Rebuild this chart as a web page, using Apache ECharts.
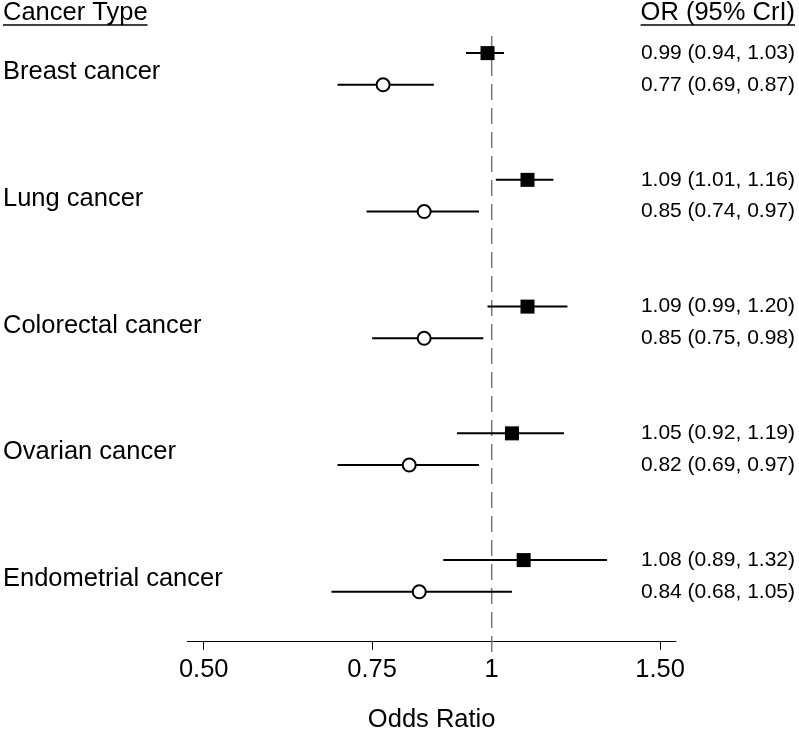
<!DOCTYPE html>
<html><head><meta charset="utf-8">
<script src="https://cdn.jsdelivr.net/npm/echarts@6/dist/echarts.min.js"></script>
<style>html,body{margin:0;padding:0;background:#fff}#c{width:799px;height:734px}</style>
</head><body><div id="c"></div>
<script>
const cancerTypes = ['Breast cancer','Lung cancer','Colorectal cancer','Ovarian cancer','Endometrial cancer'];
const squareOR   = [0.99, 1.09, 1.09, 1.05, 1.08];
const squareLow  = [0.94, 1.01, 0.99, 0.92, 0.89];
const squareHigh = [1.03, 1.16, 1.20, 1.19, 1.32];
const circleOR   = [0.77, 0.85, 0.85, 0.82, 0.84];
const circleLow  = [0.69, 0.74, 0.75, 0.69, 0.68];
const circleHigh = [0.87, 0.97, 0.98, 0.97, 1.05];
const tickValues = [0.5, 0.75, 1, 1.5];
const tickLabels = ['0.50', '0.75', '1', '1.50'];
const headerLeft = 'Cancer Type';
const headerRight = 'OR (95% CrI)';
const xTitle = 'Odds Ratio';

const FONT = '"Liberation Sans", Arial, Helvetica, sans-serif';
const BIG = 25.5, SMALL = 21;
const ln = Math.log;
const fmt = (v, l, h) => v.toFixed(2) + ' (' + l.toFixed(2) + ', ' + h.toFixed(2) + ')';

const rowValues = [], rowTexts = {};
cancerTypes.forEach((c, i) => {
  rowValues.push(i * 4, i * 4 + 1);
  rowTexts[i * 4] = fmt(squareOR[i], squareLow[i], squareHigh[i]);
  rowTexts[i * 4 + 1] = fmt(circleOR[i], circleLow[i], circleHigh[i]);
});
const labelOffset = 0.6;

const yMin = -0.54, yMax = 18.55;
const xMin = -0.7326, xMax = 0.4436;

const cv = document.createElement('canvas').getContext('2d');
cv.font = BIG + 'px ' + FONT;
const wL = cv.measureText(headerLeft).width;
const wR = cv.measureText(headerRight).width;

function ciSeries(low, high, off) {
  return {
    type: 'custom', silent: true, z: 3,
    renderItem: (p, api) => {
      const a = api.coord([api.value(0), api.value(2)]);
      const b = api.coord([api.value(1), api.value(2)]);
      return { type: 'line', shape: { x1: a[0], y1: a[1], x2: b[0], y2: b[1] }, style: { stroke: '#000', lineWidth: 2 } };
    },
    encode: { x: [0, 1], y: 2 },
    data: low.map((l, i) => [ln(l), ln(high[i]), i * 4 + off])
  };
}

const chart = echarts.init(document.getElementById('c'), null, { renderer: 'canvas' });
chart.setOption({
  animation: false,
  backgroundColor: '#fff',
  grid: { left: 187.3, right: 123, top: 36, bottom: 93.1, containLabel: false, outerBoundsMode: 'none' },
  xAxis: {
    type: 'value', min: xMin, max: xMax,
    splitLine: { show: false },
    axisLine: { show: true, onZero: false, lineStyle: { color: '#000', width: 1 } },
    axisTick: { show: true, customValues: tickValues.map(ln), length: 9, lineStyle: { color: '#000', width: 1 } },
    axisLabel: {
      customValues: tickValues.map(ln), margin: 16, fontSize: BIG, color: '#000', fontFamily: FONT,
      formatter: v => { let k = 0; tickValues.forEach((t, i) => { if (Math.abs(ln(t) - v) < Math.abs(ln(tickValues[k]) - v)) k = i; }); return tickLabels[k]; }
    },
    name: xTitle, nameLocation: 'middle', nameGap: 66,
    nameTextStyle: { fontSize: BIG, color: '#000', fontFamily: FONT }
  },
  yAxis: [
    {
      type: 'value', min: yMin, max: yMax, inverse: true,
      axisLine: { show: false }, axisTick: { show: false }, splitLine: { show: false },
      axisLabel: {
        customValues: cancerTypes.map((c, i) => i * 4 + labelOffset),
        formatter: v => cancerTypes[Math.round((v - labelOffset) / 4)],
        align: 'left', margin: 184.3, fontSize: BIG, color: '#000', fontFamily: FONT
      }
    },
    {
      type: 'value', min: yMin, max: yMax, inverse: true, position: 'right',
      axisLine: { show: false }, axisTick: { show: false }, splitLine: { show: false },
      axisLabel: {
        customValues: rowValues,
        formatter: v => rowTexts[Math.round(v)],
        align: 'right', margin: 119, fontSize: SMALL, color: '#000', fontFamily: FONT
      }
    }
  ],
  graphic: [
    { type: 'text', x: 3, y: 13, style: { text: headerLeft, font: BIG + 'px ' + FONT, fill: '#000', verticalAlign: 'middle', align: 'left' } },
    { type: 'line', shape: { x1: 3, y1: 25, x2: 3 + wL, y2: 25 }, style: { stroke: '#000', lineWidth: 1.3 } },
    { type: 'text', x: 795, y: 13, style: { text: headerRight, font: BIG + 'px ' + FONT, fill: '#000', verticalAlign: 'middle', align: 'right' } },
    { type: 'line', shape: { x1: 795 - wR, y1: 25, x2: 795, y2: 25 }, style: { stroke: '#000', lineWidth: 1.3 } }
  ],
  series: [
    {
      type: 'custom', silent: true, z: 1,
      renderItem: (p, api) => {
        const a = api.coord([api.value(0), api.value(1)]);
        const b = api.coord([api.value(0), api.value(2)]);
        return { type: 'line', shape: { x1: a[0], y1: a[1], x2: b[0], y2: b[1] }, style: { stroke: '#777', lineWidth: 1.5, lineDash: [16, 8] } };
      },
      encode: { x: 0, y: [1, 2] },
      data: [[ln(1), yMin, 19.15]]
    },
    ciSeries(squareLow, squareHigh, 0),
    ciSeries(circleLow, circleHigh, 1),
    {
      type: 'scatter', symbol: 'rect', symbolSize: 14, z: 5, silent: true,
      itemStyle: { color: '#000', opacity: 1 },
      data: squareOR.map((v, i) => [ln(v), i * 4])
    },
    {
      type: 'scatter', symbol: 'circle', symbolSize: 13, z: 5, silent: true,
      itemStyle: { color: '#fff', borderColor: '#000', borderWidth: 2, opacity: 1 },
      data: circleOR.map((v, i) => [ln(v), i * 4 + 1])
    }
  ]
});
</script>
</body></html>
